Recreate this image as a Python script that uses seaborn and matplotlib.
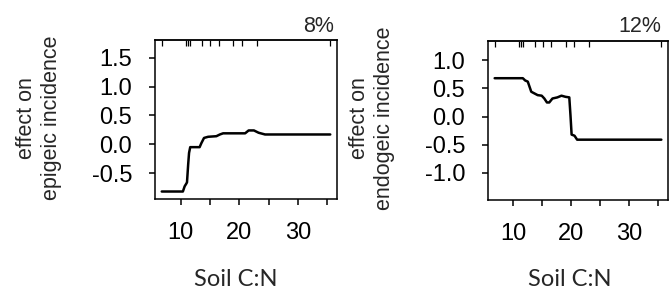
import numpy as np
import pandas as pd
import seaborn as sns
import matplotlib.pyplot as plt
from matplotlib.ticker import FixedLocator, NullFormatter

# partial dependence of incidence on soil C:N
epigeic_x = [6.8, 10.4, 10.7, 11.0, 11.1, 11.3, 11.45, 11.65, 13.25, 13.55, 14.0, 14.7,
             16.1, 16.7, 17.25, 21.0, 21.6, 22.5, 23.3, 24.4, 35.5]
epigeic_y = [-0.82, -0.82, -0.73, -0.68, -0.66, -0.35, -0.15, -0.05, -0.05, 0.02, 0.11, 0.13,
             0.14, 0.17, 0.19, 0.19, 0.24, 0.24, 0.20, 0.17, 0.17]

endogeic_x = [6.8, 11.65, 12.05, 12.5, 12.8, 13.1, 13.65, 14.2, 14.9, 15.35, 15.8, 16.2,
              16.75, 17.6, 18.3, 19.0, 19.65, 19.85, 20.05, 20.55, 21.0, 35.5]
endogeic_y = [0.68, 0.68, 0.64, 0.62, 0.53, 0.44, 0.41, 0.38, 0.37, 0.32, 0.25, 0.25,
              0.32, 0.34, 0.37, 0.35, 0.34, 0.03, -0.32, -0.34, -0.41, -0.41]

# deciles of soil C:N (rug on top axis)
deciles = [6.8, 11.0, 11.3, 11.6, 13.7, 15.1, 16.5, 19.0, 20.5, 23.1, 35.5]

x_major = [10, 20, 30]
x_minor = [15, 25, 35]
epi_yticks = [-0.5, 0.0, 0.5, 1.0, 1.5]
endo_yticks = [-1.0, -0.5, 0.0, 0.5, 1.0]

sns.set_style("ticks")
plt.rcParams['font.family'] = ['Liberation Sans', 'DejaVu Sans']

fig = plt.figure(figsize=(6.7, 2.95), dpi=100)

panels = [
    dict(x=epigeic_x, y=epigeic_y, rect=[155 / 670, 1 - 199 / 295, 182 / 670, 159 / 295],
         ylim=(-0.95, 1.81), yticks=epi_yticks, label="effect on\nepigeic incidence",
         lab_x=39 / 670, pct="8%", pct_x=334 / 670, xlab_x=236 / 670),
    dict(x=endogeic_x, y=endogeic_y, rect=[488 / 670, 1 - 200 / 295, 180 / 670, 159 / 295],
         ylim=(-1.48, 1.34), yticks=endo_yticks, label="effect on\nendogeic incidence",
         lab_x=372 / 670, pct="12%", pct_x=661 / 670, xlab_x=570 / 670),
]

for p in panels:
    ax = fig.add_axes(p["rect"])
    df = pd.DataFrame({"cn": p["x"], "effect": p["y"]})
    sns.lineplot(data=df, x="cn", y="effect", ax=ax, color="black", lw=1.8,
                 estimator=None, sort=False)
    ax.set_xlim(5.65, 36.65)
    ax.set_ylim(*p["ylim"])
    ax.set_xticks(x_major)
    ax.set_xticks(x_minor, minor=True)
    ax.set_yticks(p["yticks"])
    ax.set_yticklabels([f"{v:.1f}" for v in p["yticks"]])
    ax.tick_params(axis="both", which="both", direction="out", length=4.5, width=1.1,
                   labelsize=17, colors="black")
    ax.tick_params(axis="y", pad=12)
    ax.tick_params(axis="x", pad=12)
    ax.set_xlabel("")
    ax.set_ylabel("")
    for s in ax.spines.values():
        s.set_visible(True)
        s.set_linewidth(1.1)
        s.set_color("black")

    top = ax.secondary_xaxis("top")
    top.xaxis.set_major_locator(FixedLocator(deciles))
    top.xaxis.set_major_formatter(NullFormatter())
    top.tick_params(axis="x", direction="in", length=4, width=0.9, colors="black")
    top.spines["top"].set_linewidth(1.1)

    fig.text(p["lab_x"], 0.60, p["label"], rotation=90, ha="center", va="center",
             fontsize=15.5, linespacing=1.25)
    fig.text(p["pct_x"], 1 - 32 / 295, p["pct"], ha="right", va="baseline", fontsize=15.5)
    fig.text(p["xlab_x"], 1 - 279 / 295, "Soil C:N", ha="center", va="center",
             fontsize=17, family=["Lato", "DejaVu Sans"])

fig.savefig("out.png", dpi=100)
